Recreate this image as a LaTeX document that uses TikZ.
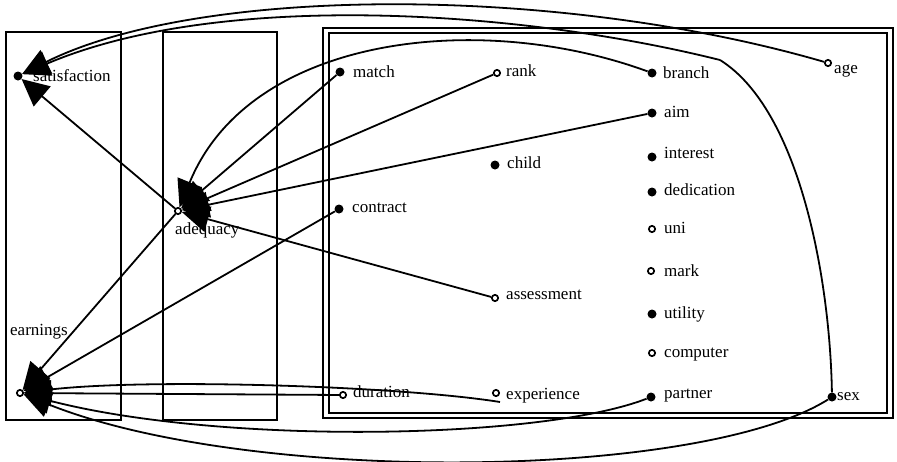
\documentclass[tikz,border=0pt]{standalone}
\usepackage{fontspec}
\setmainfont{Liberation Serif}
\usetikzlibrary{arrows.meta,calc}
\begin{document}
\begin{tikzpicture}[x=1pt,y=-1pt,
  fdot/.style={circle,fill=black,inner sep=0pt,minimum size=9pt},
  odot/.style={circle,draw=black,fill=white,line width=1.7pt,inner sep=0pt,minimum size=6.3pt},
  lab/.style={inner sep=0pt,anchor=base west,font=\fontsize{17}{20}\selectfont},
  edge/.style={line width=1.8pt},
  bigarrow/.style={edge,-{Triangle[length=27pt,width=26pt]}},
  boxline/.style={line width=1.6pt}]
\useasboundingbox (0,0) rectangle (897,461);
% boxes
\draw[boxline] (6,32) rectangle (121,420);
\draw[boxline] (163,32) rectangle (277,420);
\draw[boxline] (323,28) rectangle (893,418);
\draw[boxline] (329,33) rectangle (887,413);
% dots
\node[fdot] (sat) at (18,76) {};
\node[odot] (adeq) at (178,211) {};
\node[odot] (earn) at (20,393) {};
\node[fdot] (match) at (340,72) {};
\node[odot] (rank) at (497,73) {};
\node[fdot] (branch) at (652,73) {};
\node[fdot] (aim) at (652,113) {};
\node[fdot] (interest) at (652,157) {};
\node[fdot] (child) at (495,165) {};
\node[fdot] (dedication) at (652,192) {};
\node[odot] (uni) at (652,229) {};
\node[odot] (mark) at (651,271) {};
\node[fdot] (utility) at (652,314) {};
\node[odot] (computer) at (652,353) {};
\node[fdot] (partner) at (651,397) {};
\node[fdot] (contract) at (339,209) {};
\node[odot] (assessment) at (495,298) {};
\node[odot] (duration) at (343,395) {};
\node[odot] (experience) at (496,393) {};
\node[odot] (age) at (828,63) {};
\node[fdot] (sex) at (832,397) {};
% labels
\node[lab] (lsat) at (33,81) {satisfaction};
\node[lab] (ladeq) at (175,234) {adequacy};
\node[lab] (learn) at (10,335) {earnings};
\node[lab] (lmatch) at (353,77) {match};
\node[lab] (lrank) at (506,76) {rank};
\node[lab] (lbranch) at (663,78) {branch};
\node[lab] (laim) at (664,117) {aim};
\node[lab] (linterest) at (664,158) {interest};
\node[lab] (lchild) at (507,168) {child};
\node[lab] (ldedication) at (664,195) {dedication};
\node[lab] (luni) at (664,233) {uni};
\node[lab] (lmark) at (664,276) {mark};
\node[lab] (lutility) at (664,318) {utility};
\node[lab] (lcomputer) at (664,357) {computer};
\node[lab] (lpartner) at (664,398) {partner};
\node[lab] (lcontract) at (352,212) {contract};
\node[lab] (lassessment) at (506,299) {assessment};
\node[lab] (lduration) at (353,397) {duration};
\node[lab] (lexperience) at (506,399) {experience};
\node[lab] (lage) at (834,73) {age};
\node[lab] (lsex) at (837,400) {sex};
% waypoints
\coordinate (kink) at (720,60);
\coordinate (expend) at (500,402);
% edges into satisfaction
\draw[bigarrow] (age) .. controls (560,-15) and (200,-15) .. (sat);
\draw[edge] (sex) .. controls (830,280) and (800,110) .. (kink);
\draw[bigarrow] (kink) .. controls (520,10) and (220,-10) .. (sat);
\draw[bigarrow] (adeq) -- (sat);
% edges into adequacy
\draw[bigarrow] (branch) .. controls (480,10) and (250,35) .. (adeq);
\draw[bigarrow] (match) -- (adeq);
\draw[bigarrow] (rank) -- (adeq);
\draw[bigarrow] (aim) -- (adeq);
\draw[bigarrow] (assessment) -- (adeq);
% edges into earnings
\draw[bigarrow] (adeq) -- (earn);
\draw[bigarrow] (contract) -- (earn);
\draw[bigarrow] (duration) -- (earn);
\draw[bigarrow] (expend) .. controls (400,386) and (150,378) .. (earn);
\draw[bigarrow] (partner) .. controls (540,440) and (220,445) .. (earn);
\draw[bigarrow] (sex) .. controls (700,480) and (250,485) .. (earn);
\end{tikzpicture}
\end{document}
